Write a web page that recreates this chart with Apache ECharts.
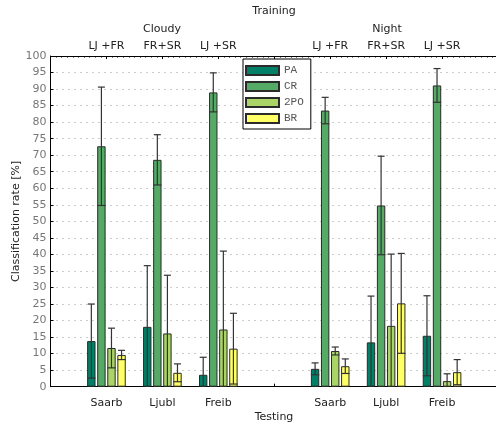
<!DOCTYPE html>
<html>
<head>
<meta charset="utf-8">
<script src="https://cdn.jsdelivr.net/npm/echarts@6/dist/echarts.min.js"></script>
<style>
  html, body { margin: 0; padding: 0; background: #fff; }
  #chart { width: 496px; height: 425px; }
</style>
</head>
<body>
<div id="chart"></div>
<script>
// Test sites (bottom axis) and training pairs (top axis), per lighting condition
const testSites = ['Saarb', 'Ljubl', 'Freib'];
const trainPairs = ['LJ +FR', 'FR+SR', 'LJ +SR'];
const conditions = ['Cloudy', 'Night'];
const seriesNames = ['PA', 'CR', '2PO', 'BR'];

// Mean classification rate [%], order: Cloudy Saarb/Ljubl/Freib, Night Saarb/Ljubl/Freib
const paMean  = [13.8, 18.1, 3.6, 5.4, 13.4, 15.4];
const crMean  = [72.7, 68.6, 89.0, 83.5, 54.8, 91.1];
const tpoMean = [11.7, 16.1, 17.3, 10.8, 18.4, 1.7];
const brMean  = [9.6, 4.2, 11.5, 6.2, 25.2, 4.4];

// Standard deviation [%]
const paStd  = [11.2, 18.5, 5.3, 1.8, 14.0, 12.1];
const crStd  = [17.9, 7.6, 5.9, 4.0, 14.9, 5.1];
const tpoStd = [6.0, 17.6, 23.7, 1.2, 21.7, 2.2];
const brStd  = [1.4, 2.7, 10.7, 2.2, 15.1, 3.8];

const yTicks = { min: 0, max: 100, step: 5 };

const means = [paMean, crMean, tpoMean, brMean];
const stds = [paStd, crStd, tpoStd, brStd];
const colors = ['#008066', '#55aa66', '#aad466', '#ffff66'];

// Slot layout: empty edge, 3 cloudy sites, gap, 3 night sites, empty edge
const bottomCats = [''].concat(testSites, [''], testSites, ['']);
const topLabels = [''].concat(trainPairs, [''], trainPairs, ['']);
const slotOf = [1, 2, 3, 5, 6, 7];

const BAR_FRAC = 0.15, GAP_FRAC = 0.2;

const barSeries = seriesNames.map((name, s) => {
  const data = bottomCats.map(() => '-');
  means[s].forEach((v, i) => { data[slotOf[i]] = v; });
  return {
    name, type: 'bar', xAxisIndex: 0, yAxisIndex: 0,
    barWidth: (BAR_FRAC * 100) + '%', barGap: (GAP_FRAC * 100) + '%',
    itemStyle: { color: colors[s], borderColor: '#2a2a2a', borderWidth: 1 },
    data, z: 2
  };
});

const errData = [];
seriesNames.forEach((name, s) => {
  means[s].forEach((v, i) => errData.push([slotOf[i], v, stds[s][i], s]));
});

const errSeries = {
  type: 'custom', xAxisIndex: 0, yAxisIndex: 0, z: 5, silent: true,
  data: errData,
  encode: { x: 0, y: 1 },
  renderItem(params, api) {
    const cat = api.value(0), m = api.value(1), sd = api.value(2), s = api.value(3);
    const band = api.size([1, 0])[0];
    const bw = band * BAR_FRAC, gap = bw * GAP_FRAC;
    const dx = (s - 1.5) * (bw + gap);
    const hi = api.coord([cat, m + sd]);
    const lowVal = m - sd;
    const lo = api.coord([cat, Math.max(0, lowVal)]);
    const x = hi[0] + dx;
    const cap = 3.5;
    const style = { stroke: '#333', lineWidth: 1.2 };
    const children = [
      { type: 'line', shape: { x1: x, y1: hi[1], x2: x, y2: lo[1] }, style },
      { type: 'line', shape: { x1: x - cap, y1: hi[1], x2: x + cap, y2: hi[1] }, style }
    ];
    if (lowVal > 0) {
      children.push({ type: 'line', shape: { x1: x - bw / 2, y1: lo[1], x2: x + bw / 2, y2: lo[1] }, style });
    }
    return { type: 'group', children };
  }
};

const FONT = 'DejaVu Sans';
const chart = echarts.init(document.getElementById('chart'), null, { renderer: 'canvas' });
chart.setOption({
  animation: false,
  backgroundColor: '#fff',
  textStyle: { fontFamily: FONT },
  grid: { left: 50.5, width: 447.5, top: 56, bottom: 38.3, show: false, containLabel: false, outerBoundsMode: 'none' },
  legend: {
    data: seriesNames,
    orient: 'vertical',
    left: 243, top: 59,
    icon: 'rect',
    itemWidth: 33, itemHeight: 9, itemGap: 5,
    padding: [6, 7, 5, 2],
    backgroundColor: '#fff',
    borderColor: '#000', borderWidth: 1,
    textStyle: { fontFamily: 'Liberation Mono', fontSize: 11, lineHeight: 9, color: '#555' },
    selectedMode: false
  },
  xAxis: [
    {
      type: 'category', position: 'bottom', data: bottomCats, boundaryGap: false,
      axisLine: { lineStyle: { color: '#000', width: 1 } },
      axisTick: { inside: true, length: 3, interval: (i) => i === 4, lineStyle: { color: '#000' } },
      axisLabel: { interval: 0, margin: 11, color: '#222', fontSize: 11, fontFamily: FONT },
      splitLine: { show: false }
    },
    {
      type: 'value', position: 'top', min: 0, max: 8, interval: 1,
      axisLine: { lineStyle: { color: '#000', width: 1 } },
      axisTick: { inside: true, length: 3, lineStyle: { color: '#000' } },
      minorTick: { show: true, splitNumber: 10, length: 1.5, lineStyle: { color: '#000' } },
      axisLabel: { margin: 4, color: '#222', fontSize: 11, fontFamily: FONT,
        formatter: (v) => topLabels[Math.round(v)] || '' },
      splitLine: { show: false }
    }
  ],
  yAxis: [
    {
      type: 'value', min: yTicks.min, max: yTicks.max, interval: yTicks.step,
      name: 'Classification rate [%]', nameLocation: 'middle', nameGap: 29, nameMoveOverlap: false,
      nameTextStyle: { color: '#222', fontSize: 11, fontFamily: FONT },
      axisLine: { show: true, lineStyle: { color: '#000', width: 1 } },
      axisTick: { show: true, inside: true, length: 3, lineStyle: { color: '#000' } },
      axisLabel: { color: '#777', fontSize: 11, margin: 4, fontFamily: FONT },
      splitLine: { show: true, lineStyle: { color: '#999', type: [1, 5], width: 1 } }
    }
  ],
  graphic: [
    { type: 'text', x: 274, y: 11, style: { text: 'Training', font: '11px "DejaVu Sans"', fill: '#222', textAlign: 'center', textVerticalAlign: 'middle' } },
    { type: 'text', x: 162, y: 29, style: { text: conditions[0], font: '11px "DejaVu Sans"', fill: '#222', textAlign: 'center', textVerticalAlign: 'middle' } },
    { type: 'text', x: 387, y: 29, style: { text: conditions[1], font: '11px "DejaVu Sans"', fill: '#222', textAlign: 'center', textVerticalAlign: 'middle' } },
    { type: 'text', x: 274, y: 417, style: { text: 'Testing', font: '11px "DejaVu Sans"', fill: '#222', textAlign: 'center', textVerticalAlign: 'middle' } }
  ],
  series: barSeries.concat([errSeries])
});
</script>
</body>
</html>
